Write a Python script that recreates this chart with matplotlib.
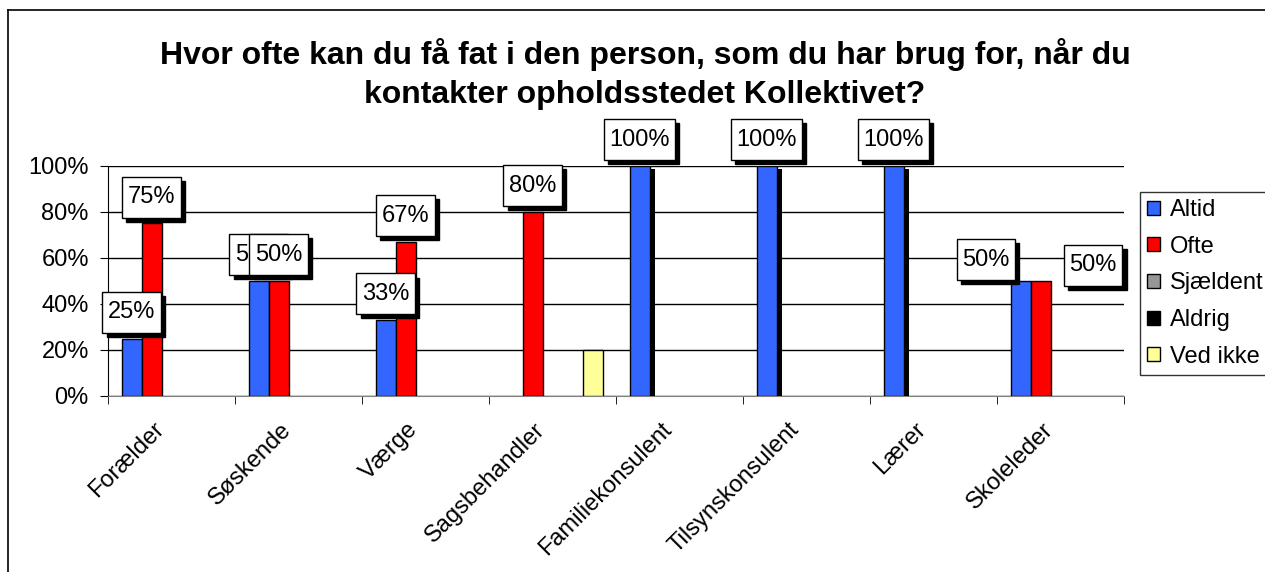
import matplotlib.pyplot as plt
import matplotlib.patheffects as pe
import matplotlib.transforms as mtransforms
from matplotlib.lines import Line2D
from matplotlib.patches import Patch
from matplotlib.path import Path
import numpy as np

plt.rcParams['font.family'] = ['Liberation Sans', 'DejaVu Sans']

categories = ['Forælder', 'Søskende', 'Værge', 'Sagsbehandler', 'Familiekonsulent',
              'Tilsynskonsulent', 'Lærer', 'Skoleleder']
series = ['Altid', 'Ofte', 'Sjældent', 'Aldrig', 'Ved ikke']
altid = [25, 50, 33, 0, 100, 100, 100, 50]
ofte = [75, 50, 67, 80, 0, 0, 0, 50]
sjaeldent = [0, 0, 0, 0, 0, 0, 0, 0]
aldrig = [0, 0, 0, 0, 0, 0, 0, 0]
ved_ikke = [0, 0, 0, 20, 0, 0, 0, 0]
colors = ['#3366FF', '#FF0000', '#969696', '#000000', '#FFFF99']
yticks = [0, 20, 40, 60, 80, 100]

values = [altid, ofte, sjaeldent, aldrig, ved_ikke]
labelled = [True, True, False, False, False]
# label offsets (points) where Excel moved the labels sideways
label_shift = {(7, 0): (-25, 7.5), (7, 1): (38, 3.5)}


def tall_box(x0, y0, width, height, mutation_size):
    px = 0.23 * mutation_size
    py = 0.40 * mutation_size
    x0, y0 = x0 - px, y0 - py
    x1, y1 = x0 + width + 2 * px, y0 + height + 2 * py
    return Path([(x0, y0), (x1, y0), (x1, y1), (x0, y1), (x0, y0)],
                [Path.MOVETO, Path.LINETO, Path.LINETO, Path.LINETO, Path.CLOSEPOLY])


fs = 17
fig = plt.figure(figsize=(12.65, 5.72), dpi=100)
ax = fig.add_axes([108 / 1265, 176 / 572, 1016 / 1265, 230 / 572])

x = np.arange(len(categories))
w = 20 / 127
zo = 10
for i, (name, vals) in enumerate(zip(series, values)):
    vals = np.array(vals)
    pos = x + (i - 2) * w
    keep = vals > 0
    bars = ax.bar(pos[keep], vals[keep], width=w, color=colors[i], edgecolor='black',
                  linewidth=1, zorder=3)
    for b, j in zip(bars, np.where(keep)[0]):
        if vals[j] >= 100:
            b.set_path_effects([pe.SimplePatchShadow(offset=(4, -2), shadow_rgbFace='black', alpha=1),
                                pe.Normal()])
        if labelled[i]:
            dx, dy = label_shift.get((j, i), (0, 11))
            txt = f'{vals[j]}%'
            ax.annotate(txt, (pos[j], vals[j]), xytext=(dx + 3, dy - 3), textcoords='offset points',
                        ha='center', va='bottom', fontsize=fs, color='black',
                        bbox=dict(boxstyle=tall_box, fc='black', ec='black'), zorder=zo)
            ax.annotate(txt, (pos[j], vals[j]), xytext=(dx, dy), textcoords='offset points',
                        ha='center', va='bottom', fontsize=fs, color='black',
                        bbox=dict(boxstyle=tall_box, fc='white', ec='black', lw=1), zorder=zo + 1)
            zo += 2

ax.set_xlim(-0.5, len(categories) - 0.5)
ax.set_ylim(0, 100)
ax.set_yticks(yticks)
ax.set_yticklabels([f'{t}%' for t in yticks], fontsize=fs)
ax.set_xticks(np.arange(len(categories) + 1) - 0.5, minor=True)
ax.tick_params(axis='x', which='major', length=0, pad=16)
ax.tick_params(axis='x', which='minor', length=6, color='black')
ax.tick_params(axis='y', length=5.8, color='black', pad=8)
ax.set_xticks(x)
ax.set_xticklabels(categories, fontsize=fs, rotation=45, ha='right', va='center',
                   rotation_mode='anchor')
shift = mtransforms.ScaledTranslation(-11 / 100, -8 / 100, fig.dpi_scale_trans)
for lab in ax.get_xticklabels():
    lab.set_transform(lab.get_transform() + shift)
ax.yaxis.grid(True, color='black', linewidth=1, zorder=0)
ax.set_axisbelow(True)
for s in ['top', 'right']:
    ax.spines[s].set_visible(False)
ax.spines['left'].set_color('black')
ax.spines['bottom'].set_color('#808080')

fig.suptitle('Hvor ofte kan du få fat i den person, som du har brug for, når du\n'
             'kontakter opholdsstedet Kollektivet?', x=645 / 1265, y=1 - 38 / 572,
             fontsize=23, fontweight='bold', linespacing=1.37, va='top')

handles = [Patch(facecolor=c, edgecolor='black', linewidth=1) for c in colors]
leg = fig.legend(handles, series, loc='upper left', bbox_to_anchor=(1140 / 1265, 1 - 192 / 572),
                 fontsize=fs, frameon=True, fancybox=False, edgecolor='black', handlelength=0.55,
                 handleheight=0.55, handletextpad=0.4, labelspacing=0.62, borderpad=0.3,
                 borderaxespad=0)
leg.get_frame().set_linewidth(1)

# outer chart border
fig.add_artist(Line2D([8 / 1265, 8 / 1265], [0, 1 - 10 / 572], color='black', lw=1.2,
                      transform=fig.transFigure))
fig.add_artist(Line2D([8 / 1265, 1], [1 - 10 / 572, 1 - 10 / 572], color='black', lw=1.2,
                      transform=fig.transFigure))

fig.savefig('out.png', dpi=100)
